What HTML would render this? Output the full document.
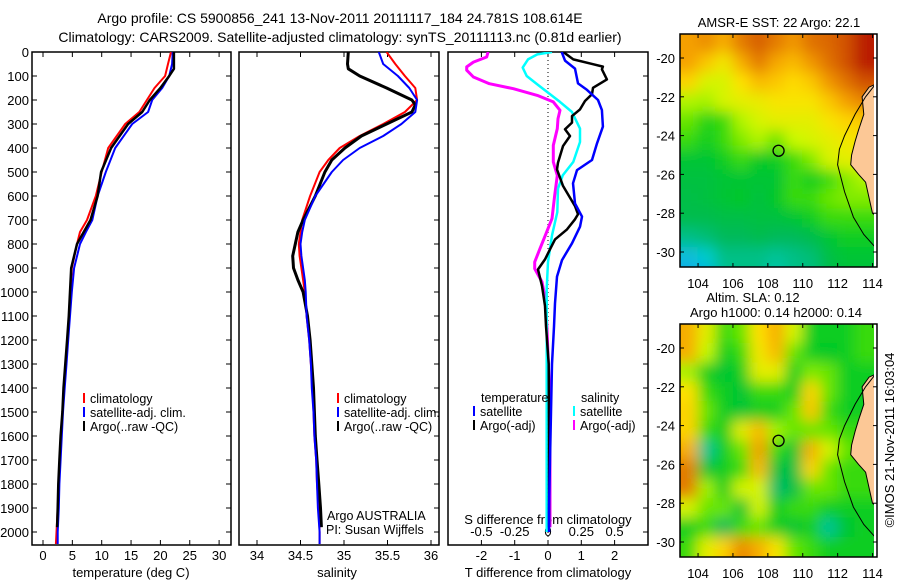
<!DOCTYPE html>
<html><head><meta charset="utf-8">
<style>
html,body{margin:0;padding:0;background:#fff;}
svg{display:block;font-family:"Liberation Sans",sans-serif;}
</style></head>
<body>
<svg id="fig" width="900" height="580" viewBox="0 0 900 580" xmlns="http://www.w3.org/2000/svg">
<defs>
<clipPath id="c1"><rect x="32" y="52" width="199" height="493"/></clipPath>
<clipPath id="c2"><rect x="239" y="52" width="200" height="493"/></clipPath>
<clipPath id="c3"><rect x="448" y="52" width="200" height="493"/></clipPath>
<clipPath id="cm1"><rect x="680" y="34" width="196" height="233"/></clipPath>
<clipPath id="cm2"><rect x="680" y="324" width="196" height="233"/></clipPath>
<filter id="blur" filterUnits="userSpaceOnUse" x="600" y="0" width="300" height="600"><feGaussianBlur stdDeviation="7"/></filter>
</defs>
<text x="340" y="23" font-size="14" text-anchor="middle">Argo profile: CS 5900856_241 13-Nov-2011 20111117_184 24.781S 108.614E</text>
<text x="340" y="42" font-size="14" text-anchor="middle">Climatology: CARS2009. Satellite-adjusted climatology: synTS_20111113.nc (0.81d earlier)</text>
<g id="g"></g>
</svg>
<script>
// ---------- data ----------
const tDepth = [0,50,100,150,200,250,300,400,500,600,700,750,800,900,1000,1100,1200,1300,1400,1500,1600,1700,1800,1900,2000,2050];
const tClim  = [21.8,21.3,20.8,19.0,17.7,16.4,14.0,11.1,10.0,9.0,7.5,6.3,5.8,4.9,4.7,4.5,4.2,3.9,3.6,3.3,3.1,2.9,2.7,2.5,2.3,2.2];
const tSat   = [22.1,22.0,21.5,20.3,18.6,17.9,15.2,12.3,10.7,9.3,8.4,7.3,6.3,5.3,4.9,4.6,4.3,4.0,3.7,3.4,3.2,3.0,2.8,2.7,2.5,2.5];
const tArgoDepth = [0,70,100,150,200,250,300,400,500,600,700,800,900,1000,1100,1200,1300,1400,1500,1600,1700,1800,1900,1980];
const tArgo  = [22.3,22.3,21.5,20.0,18.2,16.9,14.5,11.6,9.9,9.3,8.1,5.8,4.8,4.6,4.4,4.1,3.8,3.5,3.3,3.0,2.8,2.6,2.5,2.4];

const sDepth = [0,50,100,150,200,250,300,350,400,450,500,600,700,750,800,850,900,950,1000,1100,1200,1300,1400,1500,1600,1700,1800,1900,2000,2050];
const sClim  = [35.49,35.59,35.70,35.82,35.84,35.70,35.45,35.18,34.95,34.82,34.72,34.61,34.52,34.50,34.48,34.49,34.51,34.53,34.55,34.57,34.60,34.62,34.64,34.65,34.66,34.68,34.69,34.71,34.72,34.72];
const sSat   = [35.40,35.45,35.62,35.75,35.84,35.82,35.66,35.45,35.18,34.99,34.86,34.67,34.55,34.52,34.50,34.51,34.53,34.55,34.56,34.57,34.60,34.62,34.63,34.65,34.66,34.68,34.69,34.70,34.72,34.72];
const sArgoDepth = [0,50,70,100,150,200,220,250,300,350,400,450,500,600,700,750,800,850,900,950,1000,1100,1200,1300,1400,1500,1600,1700,1800,1900,1980];
const sArgo  = [35.05,35.04,35.05,35.18,35.49,35.78,35.82,35.78,35.49,35.20,35.01,34.86,34.78,34.67,34.53,34.47,34.44,34.41,34.42,34.47,34.53,34.58,34.61,34.63,34.65,34.66,34.67,34.69,34.71,34.73,34.74];

const dTSatDepth = [0,36,69,131,158,200,242,311,381,450,492,547,631,686,728,797,867,936,1047,1144,1300,1500,1700,1900,2000];
const dTSat = [0.41,0.51,0.81,0.90,1.17,1.50,1.62,1.65,1.47,1.32,0.87,0.75,0.81,1.02,0.96,0.72,0.42,0.27,0.21,0.18,0.12,0.09,0.06,0.03,0.03];
const dTArgoDepth = [0,31,51,61,72,114,149,176,204,239,267,294,322,350,392,461,489,558,642,676,697,739,781,822,864,906,975,1058,1142,1300,1600,1980];
const dTArgo = [0.46,0.76,1.35,1.65,1.62,1.77,1.35,1.32,1.11,0.96,0.72,0.72,0.51,0.66,0.45,0.30,0.27,0.45,0.81,0.90,0.81,0.57,0.21,0.06,-0.09,-0.30,-0.18,-0.09,-0.06,0.02,0.03,0.03];
const dSArgoDepth = [0,21,42,62,76,104,132,153,181,208,243,278,319,389,458,514,597,694,764,819,875,903,958,1028,1125,1400,1700,1980];
const dSArgo = [-0.45,-0.46,-0.56,-0.61,-0.61,-0.56,-0.44,-0.26,-0.08,0.04,0.09,0.075,0.07,0.04,0.04,0.07,0.05,0.03,-0.02,-0.06,-0.10,-0.10,-0.045,-0.02,-0.01,0.01,0.015,0.015];
const dSSatDepth = [0,10,31,65,100,135,169,208,250,319,375,458,514,569,667,764,875,986,1125,1400,1700,2000];
const dSSat = [0.03,-0.08,-0.15,-0.19,-0.16,-0.08,0.0,0.09,0.18,0.24,0.24,0.19,0.11,0.075,0.07,0.03,0.0,-0.01,-0.01,-0.01,-0.01,-0.01];

const depthTicks = [0,100,200,300,400,500,600,700,800,900,1000,1100,1200,1300,1400,1500,1600,1700,1800,1900,2000];
const tempTicks = [0,5,10,15,20,25,30];
const salTicks = [34,34.5,35,35.5,36];
const dTTicks = [-2,-1,0,1,2];
const dSTicks = [-0.5,-0.25,0,0.25,0.5];
const dSTickLabels = ["-0.5","-0.25","0","0.25","0.5"];
const lonTicks = [104,106,108,110,112,114];
const latTicks = [-20,-22,-24,-26,-28,-30];

const sstGrid = [
[.86,.88,.84,.90,.93,.90,.87,.91,.92,.94,.98,.98],
[.86,.80,.74,.84,.90,.85,.82,.87,.91,.94,.98,.98],
[.78,.70,.70,.76,.82,.80,.77,.80,.87,.91,.94,.94],
[.66,.65,.70,.72,.73,.75,.75,.75,.80,.86,.89,.89],
[.60,.52,.55,.66,.70,.72,.72,.72,.75,.78,.80,.80],
[.55,.50,.55,.62,.66,.60,.68,.70,.72,.74,.76,.76],
[.45,.45,.50,.55,.48,.50,.55,.62,.70,.72,.72,.72],
[.42,.42,.45,.45,.45,.45,.55,.50,.55,.62,.66,.66],
[.40,.42,.45,.48,.42,.48,.55,.55,.60,.62,.62,.62],
[.38,.38,.40,.40,.42,.42,.45,.50,.55,.55,.55,.55],
[.30,.32,.35,.35,.38,.35,.35,.38,.45,.50,.50,.50],
[.16,.22,.30,.30,.30,.28,.30,.32,.40,.45,.45,.45],
[.08,.12,.28,.30,.30,.25,.30,.30,.38,.42,.42,.42]];
const slaGrid = [
[.84,.72,.55,.60,.76,.84,.70,.50,.50,.50,.55,.55],
[.84,.68,.50,.55,.74,.82,.60,.50,.48,.50,.55,.55],
[.65,.50,.45,.50,.72,.72,.50,.62,.60,.50,.50,.50],
[.76,.55,.50,.45,.55,.55,.50,.78,.60,.50,.50,.50],
[.78,.60,.50,.45,.50,.50,.60,.80,.55,.50,.50,.50],
[.78,.55,.50,.72,.82,.65,.60,.60,.60,.55,.55,.55],
[.84,.28,.50,.60,.86,.55,.45,.84,.70,.60,.55,.55],
[.90,.45,.50,.55,.82,.42,.40,.78,.60,.55,.55,.55],
[.90,.65,.50,.70,.70,.33,.40,.60,.60,.55,.55,.55],
[.70,.60,.60,.45,.70,.50,.55,.55,.50,.50,.50,.50],
[.50,.55,.35,.55,.60,.50,.45,.50,.28,.45,.50,.50],
[.55,.72,.78,.88,.84,.75,.60,.55,.50,.50,.50,.50],
[.55,.72,.80,.90,.84,.75,.60,.55,.50,.50,.50,.50]];
const argoLon = 108.614, argoLat = -24.781;

const NS="http://www.w3.org/2000/svg";
const g=document.getElementById('g');
function el(tag,attrs,parent){const e=document.createElementNS(NS,tag);for(const k in attrs)e.setAttribute(k,attrs[k]);(parent||g).appendChild(e);return e;}
const yD = d => 52 + d*0.24;
const xT = t => 43 + t*5.87;
const xS = s => 257 + (s-34)*87;
const xDT = t => 548 + t*33.3;
const xDS = s => 548 + s*133.2;
const mxLon = lon => 680.6 + (lon-103)*17.45;
const m1Lat = lat => 58 + (-20-lat)*19.4;
const m2Lat = lat => 348 + (-20-lat)*19.4;

function line(xs,ys,xf,depths,color,w,clip,name){
  let d='';for(let i=0;i<xs.length;i++){d+=(i?'L':'M')+xf(xs[i]).toFixed(1)+','+yD(depths[i]).toFixed(1);}
  const p=el('path',{d:d,fill:'none',stroke:color,'stroke-width':w,'clip-path':'url(#'+clip+')','stroke-linejoin':'round'});
  
  
}
function frame(x,y,w,h,name){const r=el('rect',{x:x,y:y,width:w,height:h,fill:'none',stroke:'#000','stroke-width':1.5});
  
  }
function txt(x,y,s,opts,name){const t=el('text',Object.assign({x:x,y:y,'font-size':13},opts||{}));t.textContent=s;
  
  return t;}

frame(32,52,199,493,'temperature-panel');
frame(239,52,200,493,'salinity-panel');
frame(448,52,200,493,'difference-panel');
depthTicks.forEach(d=>{
  const y=yD(d);
  el('line',{x1:32,y1:y,x2:37,y2:y,stroke:'#000'});
  [231,439,648].forEach(xr=>el('line',{x1:xr,y1:y,x2:xr-5,y2:y,stroke:'#000'}));
  txt(29,y+5,String(d),{'text-anchor':'end','font-size':13},'depth-tick-label');
});
tempTicks.forEach(t=>{const x=xT(t);
  el('line',{x1:x,y1:545,x2:x,y2:540,stroke:'#000'});el('line',{x1:x,y1:52,x2:x,y2:57,stroke:'#000'});
  txt(x,560,String(t),{'text-anchor':'middle'},'temperature-tick-label');});
salTicks.forEach(s=>{const x=xS(s);
  el('line',{x1:x,y1:545,x2:x,y2:540,stroke:'#000'});el('line',{x1:x,y1:52,x2:x,y2:57,stroke:'#000'});
  txt(x,560,String(s),{'text-anchor':'middle'},'salinity-tick-label');});
dTTicks.forEach(t=>{const x=xDT(t);
  el('line',{x1:x,y1:545,x2:x,y2:540,stroke:'#000'});el('line',{x1:x,y1:52,x2:x,y2:57,stroke:'#000'});
  txt(x,560,String(t),{'text-anchor':'middle'},'t-difference-tick-label');});
dSTicks.forEach((s,i)=>{txt(xDS(s),536,dSTickLabels[i],{'text-anchor':'middle'},'s-difference-tick-label');});
txt(131,577,'temperature (deg C)',{'text-anchor':'middle'},'temperature-axis-title');
txt(337,577,'salinity',{'text-anchor':'middle'},'salinity-axis-title');
txt(548,577,'T difference from climatology',{'text-anchor':'middle'},'t-difference-axis-title');
txt(548,524,'S difference from climatology',{'text-anchor':'middle'},'s-difference-axis-title');
el('line',{x1:548,y1:52,x2:548,y2:545,stroke:'#000','stroke-dasharray':'1,3','stroke-width':1});

line(tClim,0,xT,tDepth,'#ff0000',2,'c1','temp-climatology-line');
line(tSat,0,xT,tDepth,'#0000ff',2,'c1','temp-satellite-line');
line(tArgo,0,xT,tArgoDepth,'#000000',2.5,'c1','temp-argo-line');
line(sClim,0,xS,sDepth,'#ff0000',2,'c2','sal-climatology-line');
line(sArgo,0,xS,sArgoDepth,'#000000',3,'c2','sal-argo-line');
line(sSat,0,xS,sDepth,'#0000ff',2,'c2','sal-satellite-line');
line(dSArgo,0,xDS,dSArgoDepth,'#ff00ff',3,'c3','s-diff-argo-line');
line(dSSat,0,xDS,dSSatDepth,'#00ffff',2.5,'c3','s-diff-satellite-line');
line(dTArgo,0,xDT,dTArgoDepth,'#000000',2.5,'c3','t-diff-argo-line');
line(dTSat,0,xDT,dTSatDepth,'#0000ff',2.5,'c3','t-diff-satellite-line');

function leg(x,y,color,label,name){el('rect',{x:x,y:y-10,width:2,height:10,fill:color});txt(x+7,y,label,{'font-size':12.5},name);}
leg(83,403,'#ff0000','climatology','legend-climatology');
leg(83,417,'#0000ff','satellite-adj. clim.','legend-satellite-adj');
leg(83,431,'#000000','Argo(..raw -QC)','legend-argo');
leg(337,403,'#ff0000','climatology','legend-climatology-2');
leg(337,417,'#0000ff','satellite-adj. clim.','legend-satellite-adj-2');
leg(337,431,'#000000','Argo(..raw -QC)','legend-argo-2');
txt(481,402,'temperature',{'font-size':12.5},'legend-temperature-heading');
txt(581,402,'salinity',{'font-size':12.5},'legend-salinity-heading');
leg(473,416,'#0000ff','satellite','legend-t-satellite');
leg(473,430,'#000000','Argo(-adj)','legend-t-argo');
leg(573,416,'#00ffff','satellite','legend-s-satellite');
leg(573,430,'#ff00ff','Argo(-adj)','legend-s-argo');
txt(327,520,'Argo AUSTRALIA',{'font-size':12.5},'credit-argo-australia');
txt(326,534,'PI: Susan Wijffels',{'font-size':12.5},'credit-pi');

const cstops=[[0,[30,144,255]],[0.22,[0,204,204]],[0.35,[0,185,90]],[0.48,[0,200,40]],[0.58,[80,225,0]],[0.68,[200,250,0]],[0.76,[255,225,0]],[0.86,[245,160,0]],[0.93,[215,95,0]],[1,[175,0,0]]];
function cmap(v){for(let i=1;i<cstops.length;i++){if(v<=cstops[i][0]){const a=cstops[i-1],b=cstops[i];const f=(v-a[0])/(b[0]-a[0]);
  return 'rgb('+a[1].map((c,k)=>Math.round(c+(b[1][k]-c)*f)).join(',')+')';}}return 'rgb(175,0,0)';}
function map(grid,latF,clip,y0,name){
  const gm=el('g',{'clip-path':'url(#'+clip+')'});
  
  
  const gb=el('g',{filter:'url(#blur)'},gm);
  for(let r=-1;r<=grid.length;r++)for(let c=-1;c<=grid[0].length;c++){
    const rr=Math.max(0,Math.min(grid.length-1,r)), cc=Math.max(0,Math.min(grid[0].length-1,c));
    const lat=-18.77-r, lon=103+c;
    const x=mxLon(lon), y=latF(lat);
    el('rect',{x:x-0.5,y:y-0.5,width:18.5,height:20.5,fill:cmap(grid[rr][cc])},gb);
  }
  const land=[[114.3,-21.3],[113.8,-21.5],[113.4,-22.0],[113.5,-22.9],[113.2,-23.7],[113.0,-24.3],[112.8,-25.0],[112.75,-25.5],[113.2,-26.0],[113.6,-26.4],[113.85,-27.4],[114.0,-28.0],[114.3,-28.2],[114.3,-21.3]];
  el('path',{d:'M'+land.map(p=>mxLon(p[0]).toFixed(1)+','+latF(p[1]).toFixed(1)).join('L')+'Z',fill:'#fcc896',stroke:'#000','stroke-width':1},gm);
  const shelf=[[114.3,-21.2],[113.6,-22.0],[113.0,-22.9],[112.4,-24.0],[112.1,-24.7],[112.0,-25.5],[112.4,-26.9],[112.9,-28.2],[113.5,-29.1],[114.2,-29.8]];
  el('path',{d:'M'+shelf.map(p=>mxLon(p[0]).toFixed(1)+','+latF(p[1]).toFixed(1)).join('L'),fill:'none',stroke:'#000','stroke-width':1},gm);
  el('rect',{x:874,y:y0,width:4,height:233,fill:'#fff'},gm);
  const c=el('circle',{cx:mxLon(argoLon),cy:latF(argoLat),r:5.5,fill:'none',stroke:'#000','stroke-width':1.3});
  
  
  frame(680,y0,197,233,name+'-frame');
  lonTicks.forEach(l=>{const x=mxLon(l);el('line',{x1:x,y1:y0,x2:x,y2:y0+4,stroke:'#000'});el('line',{x1:x,y1:y0+233,x2:x,y2:y0+229,stroke:'#000'});
    txt(x,y0+254,String(l),{'text-anchor':'middle'},'map-lon-tick-label');});
  latTicks.forEach(l=>{const y=latF(l);el('line',{x1:680,y1:y,x2:684,y2:y,stroke:'#000'});el('line',{x1:877,y1:y,x2:873,y2:y,stroke:'#000'});
    txt(675,y+5,String(l),{'text-anchor':'end'},'map-lat-tick-label');});
}
map(sstGrid,m1Lat,'cm1',34,'sst-map');
map(slaGrid,m2Lat,'cm2',324,'sla-map');
txt(779,27,'AMSR-E SST: 22  Argo: 22.1',{'text-anchor':'middle'},'sst-map-title');
txt(753,302,'Altim. SLA: 0.12',{'text-anchor':'middle'},'sla-map-title');
txt(776,317,'Argo h1000: 0.14 h2000: 0.14',{'text-anchor':'middle'},'sla-map-subtitle');
txt(894,440,'©IMOS 21-Nov-2011 16:03:04',{'text-anchor':'middle',transform:'rotate(-90 894 440)'},'imos-timestamp');
</script>
</body></html>
